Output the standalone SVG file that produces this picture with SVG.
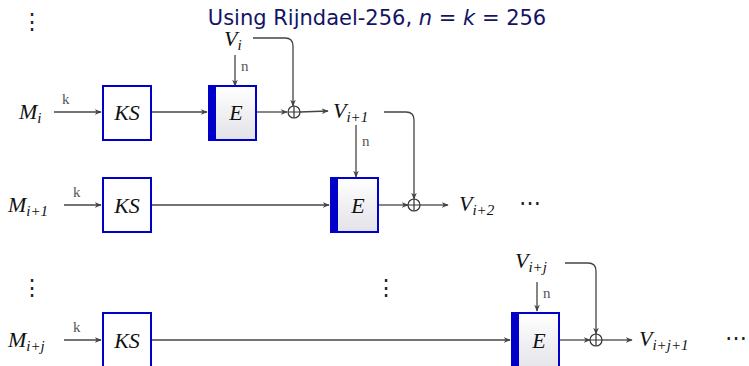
<svg xmlns="http://www.w3.org/2000/svg" width="749" height="366" viewBox="0 0 749 366">
<defs>
<linearGradient id="eg" x1="0" y1="0" x2="0" y2="1">
<stop offset="0" stop-color="#ffffff"/>
<stop offset="1" stop-color="#e2e2e8"/>
</linearGradient>
<marker id="ar" viewBox="0 0 10 10" refX="9" refY="5" markerWidth="7" markerHeight="7" markerUnits="userSpaceOnUse" orient="auto">
<path d="M0,1 L10,5 L0,9 L3,5 Z" fill="#444"/>
</marker>
<style>
.m{font-family:"Liberation Serif","DejaVu Serif",serif;font-style:italic;font-size:22px;fill:#111}
.s{font-family:"Liberation Serif","DejaVu Serif",serif;font-style:italic;font-size:15px;fill:#111}
.lab{font-family:"Liberation Serif","DejaVu Serif",serif;font-size:15px;fill:#555}
.ln{fill:none;stroke:#444;stroke-width:1.3}
.ks{fill:#fff;stroke:#0000c8;stroke-width:2}
.e{fill:url(#eg);stroke:#0000c8;stroke-width:2}
.bar{fill:#0000c8}
.dots{font-family:"DejaVu Serif",serif;font-size:22px;fill:#222}
.title{font-family:"DejaVu Sans","Open Sans",sans-serif;font-size:21px;fill:#141464}
</style>
</defs>
<rect width="749" height="366" fill="#fff"/>
<text class="title" x="377" y="25" text-anchor="middle">Using Rijndael-256, <tspan font-style="italic">n</tspan> = <tspan font-style="italic">k</tspan> = 256</text>

<g id="vdots1"><text class="dots" x="32" y="29" text-anchor="middle">⋮</text></g>
<g id="vdots2"><text class="dots" x="32" y="295" text-anchor="middle">⋮</text></g>
<g id="vdots3"><text class="dots" x="386" y="295" text-anchor="middle">⋮</text></g>

<g id="connectors">
<line class="ln" x1="54" y1="112" x2="101" y2="112" marker-end="url(#ar)"/>
<line class="ln" x1="152" y1="112" x2="207" y2="112" marker-end="url(#ar)"/>
<line class="ln" x1="257" y1="112" x2="287" y2="112" marker-end="url(#ar)"/>
<line class="ln" x1="300" y1="112" x2="328" y2="111" marker-end="url(#ar)"/>
<line class="ln" x1="235" y1="55" x2="235" y2="86" marker-end="url(#ar)"/>
<path class="ln" d="M253,38 H285 Q293,38 293,46 V106" marker-end="url(#ar)"/>
<line class="ln" x1="356" y1="125" x2="356" y2="177" marker-end="url(#ar)"/>
<path class="ln" d="M384,112 H406 Q414,112 414,120 V199" marker-end="url(#ar)"/>

<line class="ln" x1="64" y1="205" x2="101" y2="205" marker-end="url(#ar)"/>
<line class="ln" x1="152" y1="205" x2="329" y2="205" marker-end="url(#ar)"/>
<line class="ln" x1="378" y1="205" x2="408" y2="205" marker-end="url(#ar)"/>
<line class="ln" x1="420" y1="205" x2="448" y2="205" marker-end="url(#ar)"/>

<line class="ln" x1="64" y1="340" x2="101" y2="340" marker-end="url(#ar)"/>
<line class="ln" x1="152" y1="340" x2="510" y2="340" marker-end="url(#ar)"/>
<line class="ln" x1="559" y1="340" x2="590" y2="340" marker-end="url(#ar)"/>
<line class="ln" x1="602" y1="340" x2="632" y2="340" marker-end="url(#ar)"/>
<line class="ln" x1="537" y1="282" x2="537" y2="311" marker-end="url(#ar)"/>
<path class="ln" d="M565,263 H588 Q596,263 596,271 V334" marker-end="url(#ar)"/>

<text class="lab" x="62" y="104">k</text>
<text class="lab" x="73" y="197">k</text>
<text class="lab" x="73" y="332">k</text>
<text class="lab" x="241" y="71">n</text>
<text class="lab" x="362" y="146">n</text>
<text class="lab" x="543" y="298">n</text>
</g>

<g id="M_i"><text class="m" x="19" y="119">M<tspan class="s" dy="4">i</tspan></text></g>
<g id="M_i1"><text class="m" x="8" y="212">M<tspan class="s" dy="4">i+1</tspan></text></g>
<g id="M_ij"><text class="m" x="8" y="347">M<tspan class="s" dy="4">i+j</tspan></text></g>

<g id="KS1"><rect class="ks" x="103" y="86" width="48" height="54"/><text class="m" x="127" y="120" text-anchor="middle">KS</text></g>
<g id="KS2"><rect class="ks" x="103" y="178" width="48" height="54"/><text class="m" x="127" y="213" text-anchor="middle">KS</text></g>
<g id="KS3"><rect class="ks" x="103" y="313" width="48" height="60"/><text class="m" x="127" y="348" text-anchor="middle">KS</text></g>

<g id="E1"><rect class="e" x="209" y="86" width="47" height="54"/><rect class="bar" x="208" y="85" width="8" height="56"/><text class="m" x="236" y="120" text-anchor="middle">E</text></g>
<g id="E2"><rect class="e" x="331" y="178" width="47" height="54"/><rect class="bar" x="330" y="177" width="8" height="56"/><text class="m" x="358" y="213" text-anchor="middle">E</text></g>
<g id="E3"><rect class="e" x="512" y="313" width="47" height="60"/><rect class="bar" x="511" y="312" width="8" height="62"/><text class="m" x="539" y="348" text-anchor="middle">E</text></g>

<g id="X1"><circle cx="294" cy="112" r="6" fill="#fff" stroke="#333" stroke-width="1.2"/><path d="M288,112 H300 M294,106 V118" stroke="#333" stroke-width="1.2"/></g>
<g id="X2"><circle cx="414" cy="205" r="6" fill="#fff" stroke="#333" stroke-width="1.2"/><path d="M408,205 H420 M414,199 V211" stroke="#333" stroke-width="1.2"/></g>
<g id="X3"><circle cx="596" cy="340" r="6" fill="#fff" stroke="#333" stroke-width="1.2"/><path d="M590,340 H602 M596,334 V346" stroke="#333" stroke-width="1.2"/></g>

<g id="V_i"><text class="m" x="224" y="46">V<tspan class="s" dy="4">i</tspan></text></g>
<g id="V_i1"><text class="m" x="333" y="118">V<tspan class="s" dy="4">i+1</tspan></text></g>
<g id="V_i2"><text class="m" x="459" y="211">V<tspan class="s" dy="4">i+2</tspan></text></g>
<g id="V_ij"><text class="m" x="515" y="268">V<tspan class="s" dy="4">i+j</tspan></text></g>
<g id="V_ij1"><text class="m" x="639" y="346">V<tspan class="s" dy="4">i+j+1</tspan></text></g>

<g id="hdots1"><text class="dots" x="530" y="210" text-anchor="middle">⋯</text></g>
<g id="hdots2"><text class="dots" x="736" y="345" text-anchor="middle">⋯</text></g>
</svg>
